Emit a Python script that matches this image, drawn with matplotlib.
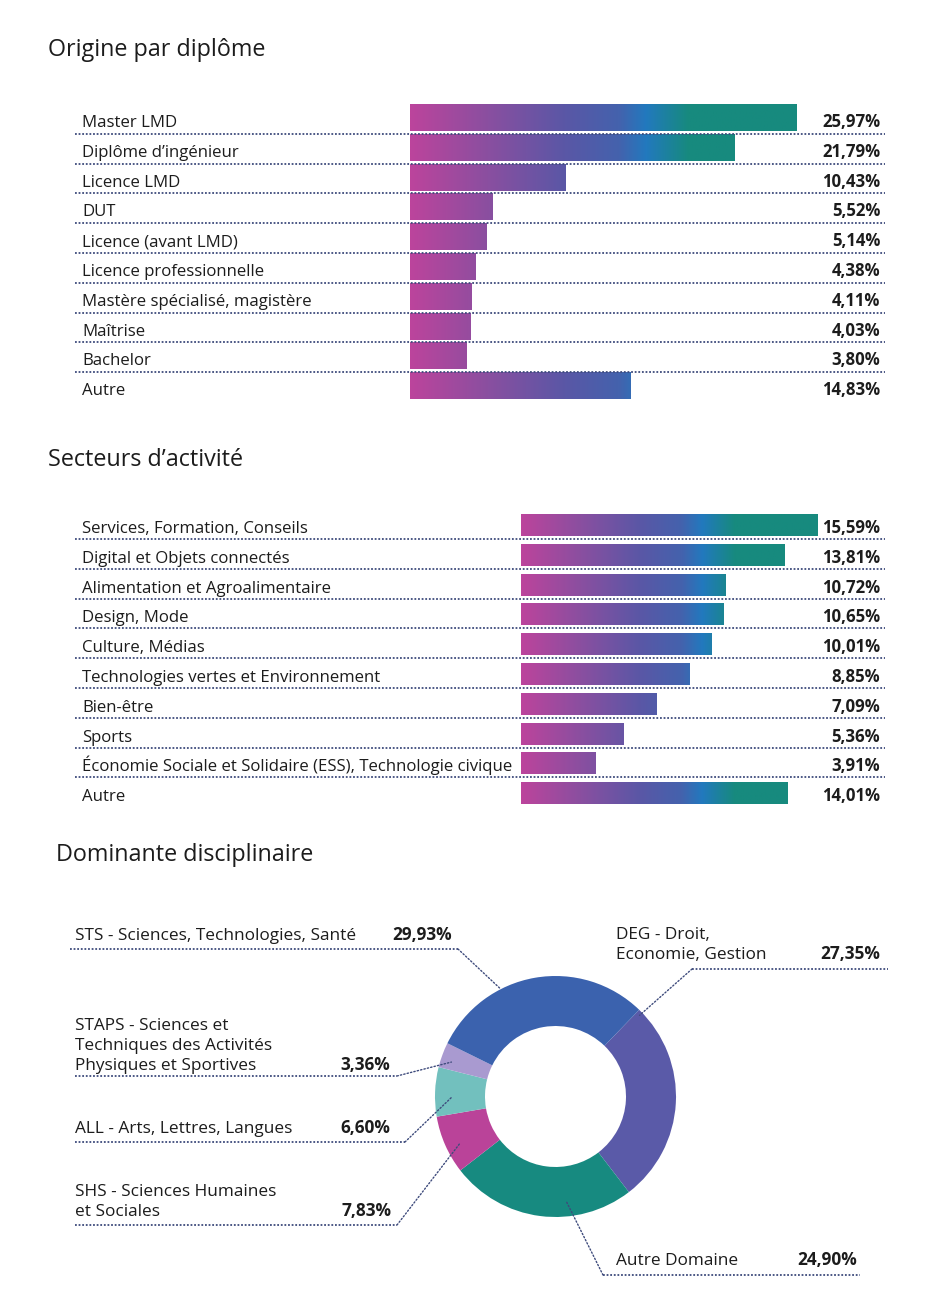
import numpy as np
import matplotlib
matplotlib.use("Agg")
import matplotlib.pyplot as plt
from matplotlib.colors import LinearSegmentedColormap
from matplotlib.patches import ConnectionPatch

plt.rcParams['font.family'] = ['Open Sans', 'DejaVu Sans']

# ---------------- data ----------------
diplome_labels = ["Master LMD", "Diplôme d\u2019ingénieur", "Licence LMD", "DUT",
                  "Licence (avant LMD)", "Licence professionnelle",
                  "Mastère spécialisé, magistère", "Maîtrise", "Bachelor", "Autre"]
diplome_values = [25.97, 21.79, 10.43, 5.52, 5.14, 4.38, 4.11, 4.03, 3.80, 14.83]

secteur_labels = ["Services, Formation, Conseils", "Digital et Objets connectés",
                  "Alimentation et Agroalimentaire", "Design, Mode", "Culture, Médias",
                  "Technologies vertes et Environnement", "Bien-être", "Sports",
                  "Économie Sociale et Solidaire (ESS), Technologie civique", "Autre"]
secteur_values = [15.59, 13.81, 10.72, 10.65, 10.01, 8.85, 7.09, 5.36, 3.91, 14.01]

dom_labels = ["DEG - Droit,\nEconomie, Gestion", "Autre Domaine",
              "SHS - Sciences Humaines\net Sociales", "ALL - Arts, Lettres, Langues",
              "STAPS - Sciences et\nTechniques des Activités\nPhysiques et Sportives",
              "STS - Sciences, Technologies, Santé"]
dom_values = [27.35, 24.90, 7.83, 6.60, 3.36, 29.93]
dom_colors = ["#5A5AA8", "#178A80", "#BA4399", "#72C0BE", "#A99AD0", "#3B62AE"]

# ---------------- style ----------------
W, H = 951, 1308
TXT = "#1c1c1c"
DOT = "#3E4B7C"
grad = LinearSegmentedColormap.from_list("grad", [
    (0.0, "#BC449C"), (0.2, "#8A4FA0"), (0.4, "#5A57A6"), (0.54, "#4462AD"),
    (0.61, "#2279BE"), (0.72, "#178A7E"), (1.0, "#178A7E")])
dotted = (0, (1, 1))
FS = 12.1


def px_axes(l, t, r, b):
    return fig.add_axes([l / W, 1 - b / H, (r - l) / W, (b - t) / H])


def fmt(v):
    return f"{v:.2f}".replace(".", ",") + "%"


fig = plt.figure(figsize=(W / 100, H / 100), dpi=100)

# full-figure overlay in pixel units for titles and donut labels
ov = px_axes(0, 0, W, H)
ov.set_xlim(0, W)
ov.set_ylim(H, 0)
ov.axis("off")

for x, y, t in [(48, 56, "Origine par diplôme"), (48, 466, "Secteurs d\u2019activité"),
                (56, 861, "Dominante disciplinaire")]:
    ov.text(x, y, t, fontsize=16.8, color=TXT, va="baseline")


def bar_section(box, labels, values, bar_h, text_dy, line_dy):
    l, t, r, b = box
    ax = px_axes(l, t, r, b)
    n = len(values)
    vmax = max(values)
    y = np.arange(n)
    bars = ax.barh(y, values, height=bar_h, color="none", edgecolor="none")
    img = np.linspace(0, 1, 256).reshape(1, -1)
    for bar in bars:
        im = ax.imshow(img, cmap=grad, aspect="auto",
                       extent=[0, vmax, n - 0.5, -0.5], interpolation="bilinear")
        im.set_clip_path(bar)
    ax.set_ylim(n - 0.5, -0.5)
    ax.axis("off")
    tr = ax.get_yaxis_transform()
    for i, (lab, v) in enumerate(zip(labels, values)):
        ax.text(0.009, i + text_dy, lab, transform=tr, fontsize=FS,
                color=TXT, va="baseline", ha="left")
        ax.text(0.994, i + text_dy, fmt(v), transform=tr, fontsize=FS,
                color=TXT, va="baseline", ha="right", fontweight="bold")
        if i < n - 1:
            ax.plot([0, 1], [i + line_dy] * 2, transform=tr, color=DOT,
                    lw=1.3, ls=dotted, clip_on=False)
    return ax


# section 1: bar start at 410px, 25.97 ends at 797px
s1 = 387 / max(diplome_values)
ax1 = bar_section((75, 102.6, 885, 400.6), diplome_labels, diplome_values,
                  0.9, 0.32, 0.55)
ax1.set_xlim((75 - 410) / s1, (885 - 410) / s1)

# section 2: bar start at 521px, 15.59 ends at 818px
s2 = 297 / max(secteur_values)
ax2 = bar_section((75, 510.1, 885, 808.1), secteur_labels, secteur_values,
                  0.74, 0.27, 0.47)
ax2.set_xlim((75 - 521) / s2, (885 - 521) / s2)

# ---------------- donut ----------------
axp = px_axes(435, 976, 676, 1217)
wedges, _ = axp.pie(dom_values, colors=dom_colors, startangle=46,
                    counterclock=False, radius=1,
                    wedgeprops=dict(width=0.415, linewidth=0))
axp.set_xlim(-1, 1)
axp.set_ylim(-1, 1)
axp.set_aspect("equal")
axp.axis("off")

# label layout: text x, first-line centre y, value right x, underline, anchor (angle, r)
label_x = [616, 616, 75, 75, 75, 75]
label_y = [933, 1259, 1190, 1127, 1024, 934]
value_x = [880, 857, 392, 390, 390, 452]
under = [(692, 888, 969), (603, 860, 1275), (75, 397, 1225),
         (75, 405, 1142), (75, 397, 1076), (70, 458, 949)]
start_end = [0, 0, 1, 1, 1, 1]  # which end of the underline the leader leaves from
anchor = [(44, 0.97), (276, 0.88), (206, 0.88), (180.3, 0.86), (161.7, 0.91), (117, 1.0)]
line_h = 20
base_dy = 6

for i, (lab, v) in enumerate(zip(dom_labels, dom_values)):
    lines = lab.split("\n")
    for k, ln in enumerate(lines):
        ov.text(label_x[i], label_y[i] + k * line_h + base_dy, ln, fontsize=12.4,
                color=TXT, va="baseline", ha="left")
    vy = label_y[i] + (len(lines) - 1) * line_h + base_dy
    ov.text(value_x[i], vy, fmt(v), fontsize=12.4, color=TXT, va="baseline",
            ha="right", fontweight="bold")
    x0, x1, uy = under[i]
    ov.plot([x0, x1], [uy, uy], color=DOT, lw=1.3, ls=dotted)
    sx = x1 if start_end[i] else x0
    ang, rr = anchor[i]
    ax_pt = (rr * np.cos(np.radians(ang)), rr * np.sin(np.radians(ang)))
    con = ConnectionPatch(xyA=(sx, uy), coordsA=ov.transData, xyB=ax_pt,
                          coordsB=axp.transData, color=DOT, lw=1.0,
                          ls=(0, (1, 1.5)))
    fig.add_artist(con)

fig.savefig("out.png", dpi=100, facecolor="white")
